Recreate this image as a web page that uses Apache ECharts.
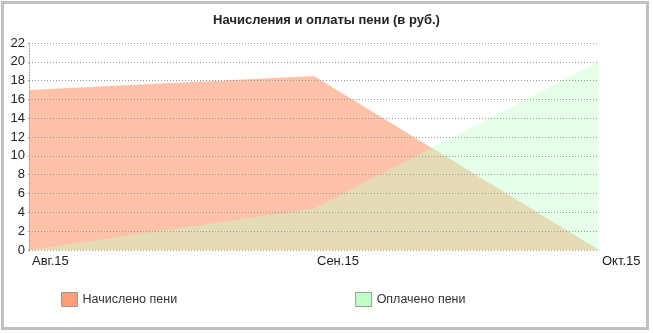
<!DOCTYPE html>
<html><head><meta charset="utf-8">
<script src="https://cdn.jsdelivr.net/npm/echarts@6/dist/echarts.min.js"></script>
<style>html,body{margin:0;padding:0;background:#fff}#c{width:653px;height:333px}</style>
</head><body><div id="c"></div>
<script>
const categories = ['Авг.15', 'Сен.15', 'Окт.15'];
const accrued = [17, 18.5, 0];
const paid = [0, 4.4, 20];
const yTicks = {min: 0, max: 22, interval: 2};

const chart = echarts.init(document.getElementById('c'));
const lbl = {fontFamily: 'Liberation Sans', fontSize: 13, color: '#222'};
chart.setOption({
  animation: false,
  title: {
    text: 'Начисления и оплаты пени (в руб.)', left: 'center', top: 14, padding: 0,
    textStyle: {fontFamily: 'Liberation Sans', fontWeight: 'bold', fontSize: 13, color: '#222'}
  },
  graphic: [{type: 'rect', shape: {x: 2.5, y: 2.5, width: 645, height: 326}, style: {fill: 'none', stroke: '#c0c0c0', lineWidth: 3}, silent: true}],
  grid: {left: 29, right: 54, top: 43, bottom: 83},
  legend: {
    data: ['Начислено пени', 'Оплачено пени'], left: 61, top: 292, itemGap: 178, padding: 0,
    itemWidth: 16, itemHeight: 14, icon: 'rect',
    textStyle: {fontFamily: 'Liberation Sans', fontSize: 12.5, color: '#333', padding: [0, 0, 0, 0]},
    itemStyle: {borderColor: '#999', borderWidth: 1}
  },
  xAxis: {
    type: 'category', data: categories, boundaryGap: false,
    axisLine: {show: false}, axisTick: {show: false},
    axisLabel: Object.assign({align: 'left', margin: 5, padding: [0, 0, 0, 3]}, lbl),
    splitLine: {show: false}
  },
  yAxis: {
    type: 'value', min: yTicks.min, max: yTicks.max, interval: yTicks.interval, z: 5,
    axisLine: {show: true, lineStyle: {color: '#999', type: [1, 2]}},
    axisTick: {show: true, length: 3, lineStyle: {color: '#999', type: [1, 2]}},
    axisLabel: Object.assign({margin: 4}, lbl),
    splitLine: {show: true, lineStyle: {color: '#999', type: [1, 2], width: 1}}
  },
  series: [
    {name: 'Начислено пени', type: 'line', data: accrued, symbol: 'none',
     lineStyle: {width: 0}, itemStyle: {color: '#ffa07a', borderColor: '#999', borderWidth: 1},
     areaStyle: {color: '#ffa07a', opacity: 0.65}},
    {name: 'Оплачено пени', type: 'line', data: paid, symbol: 'none',
     lineStyle: {width: 0}, itemStyle: {color: '#c1ffc8', borderColor: '#999', borderWidth: 1},
     areaStyle: {color: '#c1ffc8', opacity: 0.41}}
  ]
});
</script></body></html>
